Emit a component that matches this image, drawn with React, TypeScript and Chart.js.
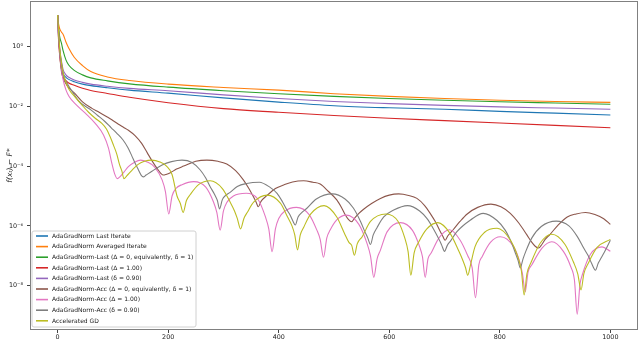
import React, { useEffect, useRef } from "react";
import { Chart, registerables } from "chart.js";

Chart.register(...registerables);

// ---------------- data (y values are log10 of f(x_t) - F*) ----------------
const X_TICKS = [0, 200, 400, 600, 800, 1000];
const Y_TICK_EXPONENTS = [-8, -6, -4, -2, 0];
const X_MIN = -50;
const X_MAX = 1050;
const Y_MIN_EXP = -9.48;
const Y_MAX_EXP = 1.52;

const MONO_ITERS = [0, 1, 2, 4, 7, 10, 15, 20, 30, 45, 60, 90, 130, 200, 300, 400, 500, 600, 700, 800, 900, 1000];
const lastIterateLog10 = [1.05, 0.55, 0.2, -0.2, -0.6, -0.9, -1.03, -1.1, -1.18, -1.26, -1.31, -1.38, -1.46, -1.56, -1.72, -1.86, -1.98, -2.05, -2.10, -2.17, -2.23, -2.29];
const averagedLog10 = [1.05, 0.85, 0.72, 0.58, 0.48, 0.40, 0.15, -0.05, -0.36, -0.64, -0.84, -1.02, -1.14, -1.26, -1.37, -1.46, -1.58, -1.67, -1.74, -1.80, -1.84, -1.87];
const lastDelta0Log10 = [1.05, 0.75, 0.55, 0.3, 0.1, -0.15, -0.45, -0.62, -0.80, -0.95, -1.05, -1.15, -1.25, -1.36, -1.48, -1.58, -1.67, -1.74, -1.80, -1.85, -1.89, -1.93];
const lastDelta1Log10 = [1.05, 0.5, 0.1, -0.35, -0.75, -1.02, -1.14, -1.22, -1.30, -1.40, -1.47, -1.57, -1.70, -1.88, -2.08, -2.20, -2.31, -2.40, -2.48, -2.56, -2.64, -2.72];
const lastDelta09Log10 = [1.05, 0.6, 0.3, -0.1, -0.5, -0.78, -0.95, -1.03, -1.12, -1.2, -1.26, -1.33, -1.40, -1.48, -1.62, -1.74, -1.84, -1.91, -1.97, -2.02, -2.06, -2.10];

const accDelta0Iters = [0, 2, 4, 7, 10, 15, 20, 31, 45, 62, 75, 89, 98, 110, 119, 128, 140, 152, 162, 170, 177, 182, 187, 191, 196, 204, 215, 228, 250, 270, 290, 306, 322, 336, 346, 354, 359, 363, 368, 379, 394, 409, 425, 445, 462, 475, 490, 505, 514, 520, 526, 532, 538, 545, 553, 568, 584, 600, 617, 635, 650, 664, 674, 684, 692, 697, 701, 706, 716, 728, 741, 760, 784, 802, 819, 835, 849, 858, 864, 870, 876, 882, 891, 905, 922, 938, 955, 972, 988, 1000];
const accDelta0Log10 = [1.05, 0.5, -0.3, -0.85, -1.05, -1.25, -1.38, -1.57, -1.85, -2.07, -2.2, -2.35, -2.45, -2.6, -2.7, -2.8, -2.98, -3.24, -3.55, -3.80, -4.0, -4.13, -4.25, -4.30, -4.28, -4.22, -4.10, -4.00, -3.84, -3.80, -3.84, -3.93, -4.15, -4.46, -4.75, -5.02, -5.20, -5.36, -5.18, -4.98, -4.75, -4.63, -4.53, -4.49, -4.54, -4.60, -4.85, -5.13, -5.40, -5.62, -5.78, -5.86, -5.72, -5.58, -5.45, -5.25, -5.08, -4.97, -4.93, -4.98, -5.08, -5.32, -5.58, -5.88, -6.18, -6.35, -6.48, -6.33, -6.12, -5.85, -5.60, -5.38, -5.27, -5.36, -5.58, -5.92, -6.30, -6.55, -6.68, -6.74, -6.62, -6.45, -6.28, -5.98, -5.70, -5.60, -5.55, -5.62, -5.76, -5.95];

const accDelta1Iters = [0, 2, 4, 7, 10, 15, 21, 32, 50, 68, 83, 92, 98, 103, 108, 113, 120, 128, 140, 150, 162, 176, 189, 195, 201, 207, 214, 225, 246, 268, 282, 288, 294, 300, 306, 318, 341, 362, 376, 382, 388, 394, 400, 410, 432, 455, 469, 475, 481, 487, 493, 505, 522, 545, 560, 566, 572, 578, 584, 596, 620, 642, 655, 660, 665, 670, 676, 690, 709, 728, 742, 750, 756, 762, 768, 783, 801, 825, 836, 841, 846, 851, 858, 876, 894, 915, 928, 935, 940, 945, 949, 964, 985, 1000];
const accDelta1Log10 = [1.05, 0.35, -0.25, -0.75, -1.12, -1.45, -1.68, -1.92, -2.23, -2.57, -2.96, -3.40, -3.90, -4.25, -4.42, -4.35, -4.20, -4.02, -3.86, -3.80, -3.86, -4.04, -4.46, -4.85, -5.60, -5.00, -4.75, -4.62, -4.52, -4.70, -5.20, -5.55, -6.14, -5.50, -5.22, -5.00, -4.91, -5.10, -5.70, -6.10, -6.86, -6.10, -5.75, -5.52, -5.38, -5.62, -6.14, -6.45, -7.05, -6.40, -6.14, -5.80, -5.64, -5.95, -6.60, -7.00, -7.72, -7.10, -6.81, -6.20, -5.89, -6.15, -6.70, -7.03, -7.72, -7.10, -6.90, -6.40, -6.13, -6.47, -7.00, -7.40, -8.40, -7.30, -7.03, -6.55, -6.36, -6.70, -7.20, -7.60, -8.20, -7.55, -7.30, -6.75, -6.53, -6.85, -7.35, -7.81, -8.95, -7.95, -7.65, -6.95, -6.70, -6.85];

const accDelta09Iters = [0, 2, 4, 7, 10, 14, 20, 28, 38, 50, 60, 72, 85, 97, 108, 118, 127, 134, 140, 146, 151, 155, 160, 170, 189, 206, 225, 243, 258, 268, 276, 284, 289, 293, 298, 304, 312, 325, 342, 365, 385, 397, 407, 415, 421, 426, 430, 435, 442, 451, 468, 497, 520, 535, 548, 556, 561, 566, 571, 578, 590, 608, 633, 655, 668, 680, 690, 695, 700, 705, 711, 722, 747, 770, 795, 810, 822, 829, 833, 837, 842, 847, 858, 875, 902, 925, 940, 952, 960, 966, 973, 978, 984, 990, 1000];
const accDelta09Log10 = [1.05, 0.4, -0.2, -0.62, -0.95, -1.12, -1.32, -1.55, -1.82, -2.0, -2.12, -2.3, -2.5, -2.72, -2.92, -3.12, -3.38, -3.65, -3.90, -4.12, -4.30, -4.36, -4.30, -4.18, -3.96, -3.85, -3.80, -3.88, -4.13, -4.40, -4.69, -4.95, -5.15, -5.43, -5.12, -4.98, -4.88, -4.68, -4.58, -4.54, -4.72, -4.91, -5.20, -5.47, -5.65, -5.85, -5.97, -5.70, -5.55, -5.41, -5.10, -4.93, -5.10, -5.40, -5.85, -6.20, -6.40, -6.62, -6.30, -6.05, -5.70, -5.47, -5.32, -5.50, -5.75, -6.10, -6.45, -6.65, -6.85, -6.65, -6.50, -6.20, -5.80, -5.58, -5.82, -6.15, -6.60, -6.95, -7.15, -7.40, -7.10, -6.85, -6.40, -6.02, -5.84, -6.00, -6.35, -6.75, -7.00, -7.25, -7.48, -7.25, -7.05, -6.85, -6.48];

const accelGdIters = [0, 2, 4, 7, 10, 15, 21, 32, 45, 56, 68, 80, 88, 95, 101, 107, 112, 116, 120, 125, 134, 145, 157, 170, 185, 197, 207, 216, 222, 227, 233, 240, 255, 276, 298, 312, 320, 325, 331, 337, 343, 355, 379, 403, 416, 424, 429, 434, 439, 445, 458, 482, 505, 519, 527, 532, 537, 542, 551, 566, 594, 616, 628, 634, 639, 645, 653, 668, 688, 710, 726, 733, 738, 742, 747, 755, 772, 795, 819, 832, 839, 844, 849, 857, 873, 894, 918, 933, 941, 947, 952, 960, 976, 1000];
const accelGdLog10 = [1.05, 0.4, -0.1, -0.55, -0.88, -1.2, -1.45, -1.70, -1.98, -2.20, -2.40, -2.57, -2.75, -3.02, -3.30, -3.60, -3.95, -4.15, -4.42, -4.33, -4.15, -3.95, -3.84, -3.80, -3.86, -4.00, -4.28, -5.0, -5.25, -5.55, -5.15, -4.95, -4.62, -4.49, -4.75, -5.20, -5.50, -5.75, -6.10, -5.75, -5.55, -5.20, -4.97, -5.24, -5.70, -6.00, -6.30, -6.80, -6.30, -6.05, -5.60, -5.32, -5.70, -6.25, -6.55, -6.65, -6.98, -6.60, -6.36, -5.85, -5.60, -5.85, -6.40, -6.85, -7.65, -6.90, -6.55, -6.10, -5.89, -6.25, -6.85, -7.15, -7.40, -7.65, -7.30, -6.70, -6.22, -6.08, -6.47, -7.00, -7.50, -8.31, -7.60, -7.20, -6.58, -6.28, -6.62, -7.20, -7.60, -8.14, -7.60, -7.25, -6.72, -6.45];

const SERIES_LABELS = [
  "AdaGradNorm Last Iterate",
  "AdaGradNorm Averaged Iterate",
  "AdaGradNorm-Last (Δ = 0, equivalently, δ = 1)",
  "AdaGradNorm-Last (Δ = 1.00)",
  "AdaGradNorm-Last (δ = 0.90)",
  "AdaGradNorm-Acc (Δ = 0, equivalently, δ = 1)",
  "AdaGradNorm-Acc (Δ = 1.00)",
  "AdaGradNorm-Acc (δ = 0.90)",
  "Accelerated GD",
];
const SERIES_COLORS = ["#1f77b4", "#ff7f0e", "#2ca02c", "#d62728", "#9467bd", "#8c564b", "#e377c2", "#7f7f7f", "#bcbd22"];
const SERIES_ITERS = [MONO_ITERS, MONO_ITERS, MONO_ITERS, MONO_ITERS, MONO_ITERS, accDelta0Iters, accDelta1Iters, accDelta09Iters, accelGdIters];
const SERIES_LOG10 = [lastIterateLog10, averagedLog10, lastDelta0Log10, lastDelta1Log10, lastDelta09Log10, accDelta0Log10, accDelta1Log10, accDelta09Log10, accelGdLog10];

const FONT = "'DejaVu Sans', sans-serif";
const SUP: Record<string, string> = { "0": "⁰", "1": "¹", "2": "²", "3": "³", "4": "⁴", "5": "⁵", "6": "⁶", "7": "⁷", "8": "⁸", "9": "⁹", "-": "⁻" };
const powLabel = (e: number) => "10" + String(e).split("").map((c) => SUP[c] || c).join("");

const zeroPadding = (s: any) => {
  s.paddingTop = 0;
  s.paddingBottom = 0;
  s.paddingLeft = 0;
  s.paddingRight = 0;
};

const frameLegendPlugin = {
  id: "frameLegend",
  afterDatasetsDraw(chart: any) {
    const { ctx, chartArea: a } = chart;
    ctx.save();
    // legend box
    const bx = Math.round(a.left) + 2;
    const bw = 164;
    const rowH = 10.6;
    const n = chart.data.datasets.length;
    const bh = n * rowH + 0.6;
    const by = Math.round(a.bottom) - 3 - bh;
    const r = 2;
    ctx.beginPath();
    ctx.moveTo(bx + r, by);
    ctx.lineTo(bx + bw - r, by);
    ctx.arcTo(bx + bw, by, bx + bw, by + r, r);
    ctx.lineTo(bx + bw, by + bh - r);
    ctx.arcTo(bx + bw, by + bh, bx + bw - r, by + bh, r);
    ctx.lineTo(bx + r, by + bh);
    ctx.arcTo(bx, by + bh, bx, by + bh - r, r);
    ctx.lineTo(bx, by + r);
    ctx.arcTo(bx, by, bx + r, by, r);
    ctx.closePath();
    ctx.fillStyle = "rgba(255,255,255,0.8)";
    ctx.fill();
    ctx.strokeStyle = "#d0d0d0";
    ctx.lineWidth = 1;
    ctx.stroke();
    ctx.font = `6px ${FONT}`;
    ctx.textBaseline = "middle";
    ctx.textAlign = "left";
    chart.data.datasets.forEach((ds: any, i: number) => {
      const cy = by + 5 + i * rowH;
      ctx.strokeStyle = ds.borderColor;
      ctx.lineWidth = 1.6;
      ctx.beginPath();
      ctx.moveTo(bx + 4, cy);
      ctx.lineTo(bx + 16, cy);
      ctx.stroke();
      ctx.fillStyle = "#1a1a1a";
      ctx.fillText(ds.label, bx + 20, cy + 0.3);
    });
    // frame (all four spines)
    ctx.strokeStyle = "#808080";
    ctx.lineWidth = 1;
    const l = Math.round(a.left) + 0.5;
    const t = Math.round(a.top) + 0.5;
    const rr = Math.round(a.right) - 0.5;
    const b = Math.round(a.bottom) - 0.5;
    ctx.strokeRect(l, t, rr - l, b - t);
    ctx.restore();
  },
};

export default function App() {
  const ref = useRef<HTMLCanvasElement>(null);
  useEffect(() => {
    const canvas = ref.current;
    if (!canvas) return;
    const datasets = SERIES_LABELS.map((label, i) => {
      const xs = SERIES_ITERS[i];
      const ls = SERIES_LOG10[i];
      const len = Math.min(xs.length, ls.length);
      const data = [] as { x: number; y: number }[];
      for (let j = 0; j < len; j++) data.push({ x: xs[j], y: Math.pow(10, ls[j]) });
      return {
        label,
        data,
        borderColor: SERIES_COLORS[i],
        backgroundColor: SERIES_COLORS[i],
        borderWidth: 1.1,
        borderJoinStyle: "round",
        pointRadius: 0,
        fill: false,
        cubicInterpolationMode: "monotone",
        order: SERIES_LABELS.length - i,
      };
    });
    const chart = new Chart(canvas, {
      type: "line",
      data: { datasets } as any,
      options: {
        animation: false,
        responsive: false,
        maintainAspectRatio: false,
        devicePixelRatio: 1,
        layout: { padding: { top: 1, right: 2, left: 0, bottom: 0 } },
        plugins: { legend: { display: false }, tooltip: { enabled: false } },
        scales: {
          x: {
            type: "linear",
            min: X_MIN,
            max: X_MAX,
            bounds: "data",
            afterBuildTicks: (s: any) => {
              s.ticks = X_TICKS.map((v) => ({ value: v }));
            },
            afterFit: (s: any) => {
              s.height = 9;
              zeroPadding(s);
            },
            grid: { display: true, drawOnChartArea: false, drawTicks: true, tickLength: 3, color: "#444" },
            border: { display: false },
            ticks: {
              autoSkip: false,
              maxRotation: 0,
              padding: 1,
              color: "#222",
              font: { family: FONT, size: 6.4 },
              callback: (v: any) => String(v),
            },
          },
          y: {
            type: "logarithmic",
            min: Math.pow(10, Y_MIN_EXP),
            max: Math.pow(10, Y_MAX_EXP),
            bounds: "data",
            afterBuildTicks: (s: any) => {
              s.ticks = Y_TICK_EXPONENTS.map((e) => ({ value: Math.pow(10, e) }));
            },
            afterFit: (s: any) => {
              s.width = 30;
              zeroPadding(s);
            },
            grid: { display: true, drawOnChartArea: false, drawTicks: true, tickLength: 3, color: "#444" },
            border: { display: false },
            title: {
              display: true,
              text: "f(xₜ) − F*",
              color: "#222",
              font: { family: FONT, size: 7.5, style: "italic" },
              padding: { top: 6, bottom: 0 },
            },
            ticks: {
              autoSkip: false,
              padding: 4,
              color: "#222",
              font: { family: FONT, size: 6.4 },
              callback: (_v: any, idx: number) => powLabel(Y_TICK_EXPONENTS[idx]),
            },
          },
        },
      } as any,
      plugins: [frameLegendPlugin],
    });
    return () => chart.destroy();
  }, []);
  return (
    <div style={{ position: "fixed", left: 0, top: 0, width: 640, height: 339, background: "#fff" }}>
      <canvas ref={ref} width={640} height={339} style={{ display: "block", width: 640, height: 339 }} />
    </div>
  );
}
